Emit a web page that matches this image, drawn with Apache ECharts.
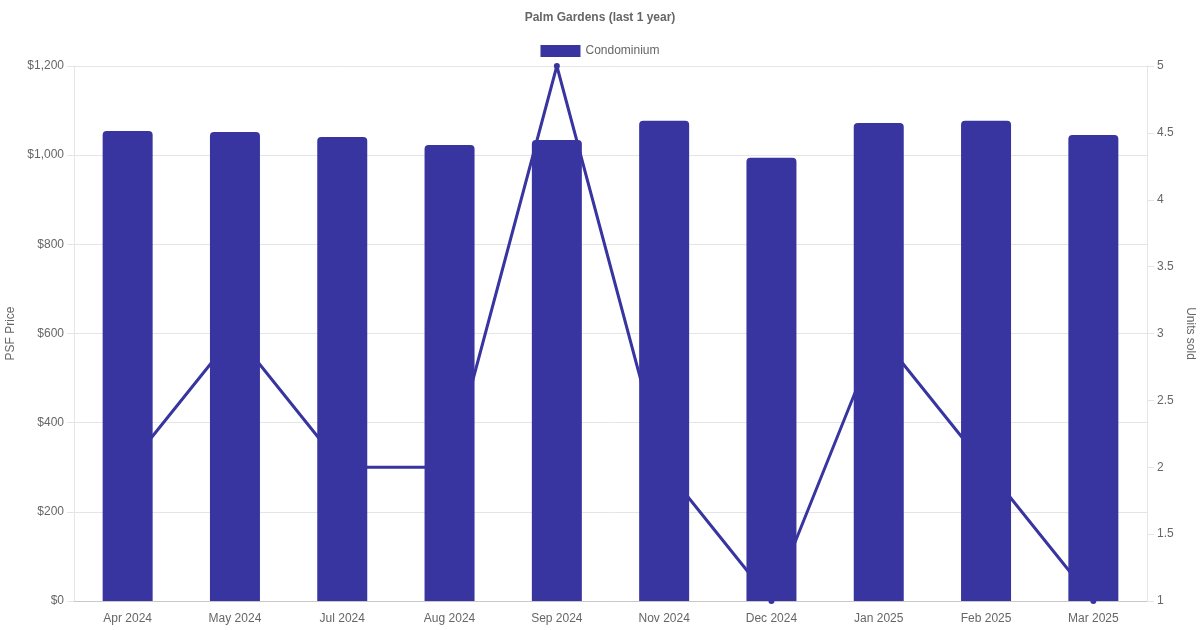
<!DOCTYPE html>
<html>
<head>
<meta charset="utf-8">
<script src="https://cdn.jsdelivr.net/npm/echarts@6/dist/echarts.min.js"></script>
<style>html,body{margin:0;padding:0;background:#fff}#c{width:1200px;height:630px}</style>
</head>
<body>
<div id="c"></div>
<script>
const categories = ['Apr 2024','May 2024','Jul 2024','Aug 2024','Sep 2024','Nov 2024','Dec 2024','Jan 2025','Feb 2025','Mar 2025'];
const psfPrice = [1054, 1052, 1041, 1023, 1034, 1077, 994, 1072, 1077, 1045];
const unitsSold = [2, 3, 2, 2, 5, 2, 1, 3, 2, 1];
const leftTicks = {min: 0, max: 1200, interval: 200};
const rightTicks = {min: 1, max: 5, interval: 0.5};

const color = '#3935a0';
const textColor = '#666';
const gridColor = '#e5e5e5';
const font = 'Liberation Sans, Arial, sans-serif';

const chart = echarts.init(document.getElementById('c'), null, {renderer: 'canvas'});
chart.setOption({
  animation: false,
  textStyle: {fontFamily: font},
  title: {
    text: 'Palm Gardens (last 1 year)',
    left: 'center', top: 7,
    textStyle: {fontSize: 12, fontWeight: 'bold', color: textColor, fontFamily: font}
  },
  legend: {
    top: 40, left: 'center',
    itemWidth: 40, itemHeight: 12, itemGap: 10,
    data: [{name: 'Condominium', icon: 'rect'}],
    textStyle: {fontSize: 12, color: textColor, fontFamily: font}
  },
  grid: {left: 74, right: 53, top: 66, bottom: 29, containLabel: false, outerBoundsMode: 'none'},
  xAxis: {
    type: 'category',
    data: categories,
    axisLine: {show: true, lineStyle: {color: '#c8c8c8'}},
    axisTick: {show: false},
    axisLabel: {color: textColor, fontSize: 12, margin: 12, fontFamily: font},
    splitLine: {show: false}
  },
  yAxis: [
    {
      type: 'value', position: 'left',
      min: leftTicks.min, max: leftTicks.max, interval: leftTicks.interval,
      name: 'PSF Price', nameLocation: 'middle', nameGap: 56, nameRotate: 90,
      nameTextStyle: {color: textColor, fontSize: 12, fontFamily: font},
      axisLine: {show: true, lineStyle: {color: gridColor}},
      axisTick: {show: true, length: 7, lineStyle: {color: gridColor}},
      axisLabel: {color: textColor, fontSize: 12, margin: 10, fontFamily: font,
        formatter: v => '$' + v.toLocaleString('en-US')},
      splitLine: {show: true, lineStyle: {color: gridColor}}
    },
    {
      type: 'value', position: 'right',
      min: rightTicks.min, max: rightTicks.max, interval: rightTicks.interval,
      name: 'Units sold', nameLocation: 'middle', nameGap: 36, nameRotate: -90,
      nameTextStyle: {color: textColor, fontSize: 12, fontFamily: font},
      axisLine: {show: true, lineStyle: {color: gridColor}},
      axisTick: {show: true, length: 7, lineStyle: {color: gridColor}},
      axisLabel: {color: textColor, fontSize: 12, margin: 10, fontFamily: font},
      splitLine: {show: false}
    }
  ],
  series: [
    {
      name: 'Units',
      type: 'line',
      yAxisIndex: 1,
      data: unitsSold,
      z: 1,
      symbol: 'circle', symbolSize: 6,
      lineStyle: {color: color, width: 3},
      itemStyle: {color: color}
    },
    {
      name: 'Condominium',
      type: 'bar',
      yAxisIndex: 0,
      data: psfPrice,
      z: 5,
      barWidth: 50,
      itemStyle: {color: color, borderRadius: [4, 4, 0, 0]}
    }
  ]
});
</script>
</body>
</html>
